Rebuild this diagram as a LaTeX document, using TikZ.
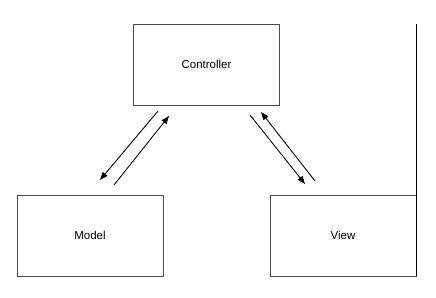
\documentclass[tikz,border=0pt]{standalone}
\usepackage{fontspec}
\setmainfont{Liberation Sans}
\usetikzlibrary{arrows.meta}
\begin{document}
\begin{tikzpicture}[x=1pt,y=-1pt,
  box/.style={draw=black!70,line width=0.9pt,minimum width=146pt,minimum height=81pt,inner sep=0pt,font=\fontsize{11.5pt}{13pt}\selectfont},
  conn/.style={line width=0.9pt,-{Triangle[length=8pt,width=6pt]}}]
\useasboundingbox (0,0) rectangle (436,297);
\node[box] (ctrl) at (206.5,64.5) {Controller};
\node[box] (model) at (90,235.5) {Model};
\node[box] (view) at (343,235.5) {View};
\draw[line width=1pt] (416,24) coordinate (vt) -- (416,276) coordinate (vb);
\coordinate (a1s) at (158,111); \coordinate (a1e) at (100,180);
\coordinate (a2s) at (114,185); \coordinate (a2e) at (169,116);
\coordinate (a3s) at (250,115); \coordinate (a3e) at (305,184);
\coordinate (a4s) at (315,181); \coordinate (a4e) at (261,112);
\draw[conn] (a1s) -- (a1e);
\draw[conn] (a2s) -- (a2e);
\draw[conn] (a3s) -- (a3e);
\draw[conn] (a4s) -- (a4e);
\end{tikzpicture}
\end{document}
